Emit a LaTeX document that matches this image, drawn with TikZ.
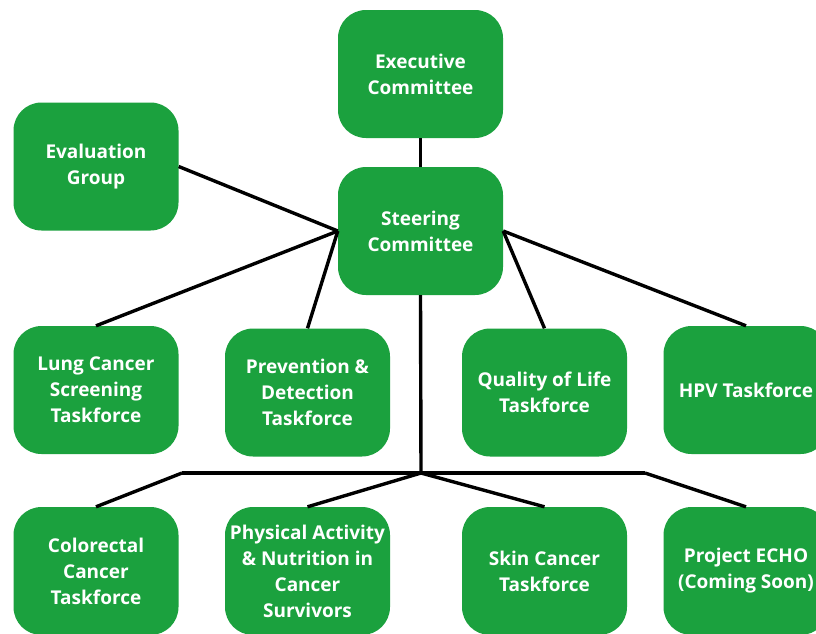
\documentclass[tikz,border=0pt]{standalone}
\usepackage{fontspec}
\setmainfont{Open Sans}
\definecolor{boxgreen}{RGB}{27,161,62}
\begin{document}
\begin{tikzpicture}[x=1pt,y=-1pt,
  box/.style={fill=boxgreen,rounded corners=28pt,minimum width=165pt,
    minimum height=128pt,inner sep=1pt,align=center,text=white,
    font=\bfseries\fontsize{19}{26}\selectfont},
  link/.style={line width=3.4pt}]
  \useasboundingbox[fill=white] (0,0) rectangle (816,633);
  % top
  \node[box] (exec) at (420.5,74) {Executive\\Committee};
  \node[box] (steer) at (420.5,231) {Steering\\Committee};
  \node[box] (eval) at (96,166.5) {Evaluation\\Group};
  % first row of taskforces
  \node[box] (lung) at (96,390) {Lung Cancer\\Screening\\Taskforce};
  \node[box] (prev) at (307.5,392.5) {Prevention \&\\Detection\\Taskforce};
  \node[box] (qol) at (544.5,392.5) {Quality of Life\\Taskforce};
  \node[box] (hpv) at (746,390) {HPV Taskforce};
  % second row
  \node[box] (colo) at (96,571) {Colorectal\\Cancer\\Taskforce};
  \node[box] (phys) at (307.5,571) {Physical Activity\\\& Nutrition in\\Cancer\\Survivors};
  \node[box] (skin) at (544.5,571) {Skin Cancer\\Taskforce};
  \node[box] (echo) at (746,571) {Project ECHO\\(Coming Soon)};
  % bus under the first row
  \coordinate (hub) at (421,473);
  \coordinate (busl) at (182,473);
  \coordinate (busr) at (645,473);
  % lines
  \draw[link] (exec.south) -- (steer.north);
  \draw[link] (eval.east) -- (steer.west);
  \draw[link] (steer.west) -- (lung.north);
  \draw[link] (steer.west) -- (prev.north);
  \draw[link] (steer.east) -- (qol.north);
  \draw[link] (steer.east) -- (hpv.north);
  \draw[link] (steer.south) -- (hub);
  \draw[link] (busl) -- (busr);
  \draw[link] (busl) -- (colo.north);
  \draw[link] (hub) -- (phys.north);
  \draw[link] (hub) -- (skin.north);
  \draw[link] (busr) -- (echo.north);
\end{tikzpicture}
\end{document}
